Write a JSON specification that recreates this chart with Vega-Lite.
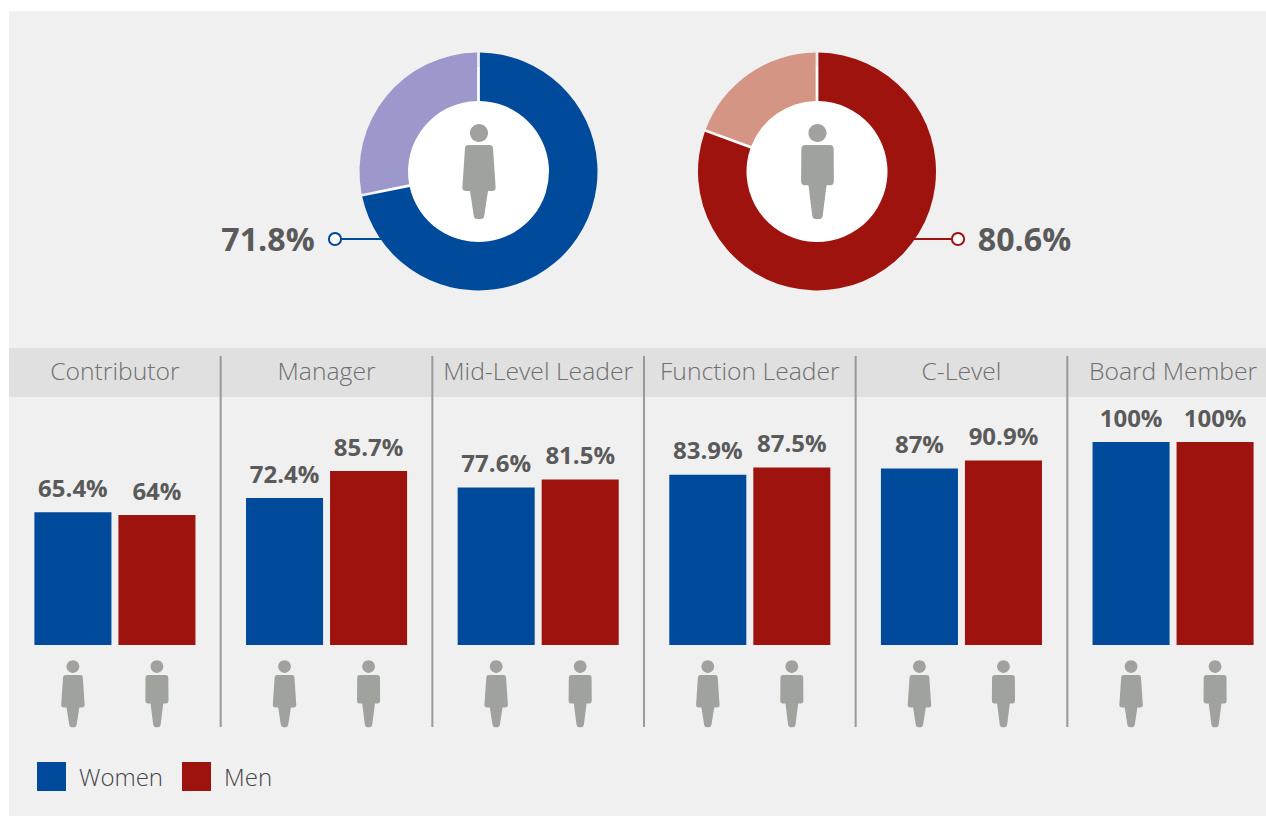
{"$schema":"https://vega.github.io/schema/vega-lite/v6.json","width":1266,"height":816,"autosize":{"type":"fit","contains":"padding"},"padding":{"left":9,"top":11,"right":0,"bottom":0},"background":"#ffffff","view":{"stroke":null,"fill":"#f0f0f0"},"config":{"font":"Open Sans"},"datasets":{"levels":[{"level":"Contributor"},{"level":"Manager"},{"level":"Mid-Level Leader"},{"level":"Function Leader"},{"level":"C-Level"},{"level":"Board Member"}],"bars":[{"level":"Contributor","gender":"Women","share":0.654},{"level":"Contributor","gender":"Men","share":0.64},{"level":"Manager","gender":"Women","share":0.724},{"level":"Manager","gender":"Men","share":0.857},{"level":"Mid-Level Leader","gender":"Women","share":0.776},{"level":"Mid-Level Leader","gender":"Men","share":0.815},{"level":"Function Leader","gender":"Women","share":0.839},{"level":"Function Leader","gender":"Men","share":0.875},{"level":"C-Level","gender":"Women","share":0.87},{"level":"C-Level","gender":"Men","share":0.909},{"level":"Board Member","gender":"Women","share":1},{"level":"Board Member","gender":"Men","share":1}],"overall":[{"gender":"Women","share":0.718},{"gender":"Men","share":0.806}],"donut":[{"gender":"Women","segment":"Women","share":0.718},{"gender":"Women","segment":"Women remainder","share":0.282},{"gender":"Men","segment":"Men","share":0.806},{"gender":"Men","segment":"Men remainder","share":0.194}]},"resolve":{"scale":{"x":"independent"}},"layer":[{"data":{"name":"levels"},"mark":{"type":"rect","fill":"#e0e0e0"},"transform":[{"filter":"datum.level=='Contributor'"}],"encoding":{"y":{"datum":1.463,"type":"quantitative","axis":null,"scale":{"domain":[0,1],"range":[634,431],"nice":false,"zero":false}},"y2":{"datum":1.2217}}},{"data":{"name":"levels"},"transform":[{"filter":"datum.level!='Contributor'"}],"mark":{"type":"rule","color":"#999999","strokeWidth":2},"encoding":{"x":{"field":"level","type":"nominal","axis":null,"bandPosition":0,"scale":{"type":"band","domain":["Contributor","Manager","Mid-Level Leader","Function Leader","C-Level","Board Member"],"range":[0,1270]}},"y":{"datum":1.4236,"type":"quantitative","axis":null,"scale":{"domain":[0,1],"range":[634,431],"nice":false,"zero":false}},"y2":{"datum":-0.404}}},{"data":{"name":"levels"},"mark":{"type":"text","font":"Open Sans","fontWeight":300,"fontSize":24.7,"color":"#6f6f6f","baseline":"alphabetic"},"encoding":{"text":{"field":"level"},"x":{"field":"level","type":"nominal","axis":null,"scale":{"type":"band","domain":["Contributor","Manager","Mid-Level Leader","Function Leader","C-Level","Board Member"],"range":[0,1270],"paddingInner":0.239,"paddingOuter":0.12}},"y":{"datum":1.3055,"type":"quantitative","axis":null,"scale":{"domain":[0,1],"range":[634,431],"nice":false,"zero":false}}}},{"data":{"name":"bars"},"mark":{"type":"bar"},"encoding":{"x":{"field":"level","type":"nominal","axis":null,"scale":{"type":"band","domain":["Contributor","Manager","Mid-Level Leader","Function Leader","C-Level","Board Member"],"range":[0,1270],"paddingInner":0.239,"paddingOuter":0.12}},"xOffset":{"field":"gender","type":"nominal","scale":{"domain":["Women","Men"],"paddingInner":0.083}},"y":{"field":"share","type":"quantitative","axis":null,"stack":null,"scale":{"domain":[0,1],"range":[634,431],"nice":false,"zero":false}},"color":{"field":"gender","type":"nominal","scale":{"domain":["Women","Men","Women remainder","Men remainder"],"range":["#004a9b","#9e130e","#9c98cc","#d49584"]},"legend":{"title":null,"orient":"none","legendX":28,"legendY":751,"direction":"horizontal","columns":2,"values":["Women","Men"],"symbolType":"square","symbolSize":841,"symbolStrokeWidth":0,"labelFont":"Open Sans","labelFontWeight":300,"labelFontSize":24,"labelColor":"#444444","labelOffset":13,"columnPadding":18,"encode":{"labels":{"update":{"dy":{"value":2}}}}}}}},{"data":{"name":"bars"},"mark":{"type":"text","font":"Open Sans","fontWeight":700,"fontSize":24,"color":"#5a5a5a","baseline":"alphabetic","dy":-15.5},"encoding":{"text":{"field":"share","type":"quantitative","format":".1~%"},"x":{"field":"level","type":"nominal","axis":null,"scale":{"type":"band","domain":["Contributor","Manager","Mid-Level Leader","Function Leader","C-Level","Board Member"],"range":[0,1270],"paddingInner":0.239,"paddingOuter":0.12}},"xOffset":{"field":"gender","type":"nominal","scale":{"domain":["Women","Men"],"paddingInner":0.083}},"y":{"field":"share","type":"quantitative","axis":null,"stack":null,"scale":{"domain":[0,1],"range":[634,431],"nice":false,"zero":false}}}},{"data":{"name":"bars"},"mark":{"type":"point","filled":true,"size":4489,"color":"#a0a29e","opacity":1},"encoding":{"x":{"field":"level","type":"nominal","axis":null,"scale":{"type":"band","domain":["Contributor","Manager","Mid-Level Leader","Function Leader","C-Level","Board Member"],"range":[0,1270],"paddingInner":0.239,"paddingOuter":0.12}},"xOffset":{"field":"gender","type":"nominal","scale":{"domain":["Women","Men"],"paddingInner":0.083}},"y":{"datum":-0.24,"type":"quantitative","axis":null,"scale":{"domain":[0,1],"range":[634,431],"nice":false,"zero":false}},"shape":{"field":"gender","type":"nominal","legend":null,"scale":{"domain":["Women","Men"],"range":["M-0.19,-0.81A0.19,0.19 0 1 1 0.19,-0.81A0.19,0.19 0 1 1 -0.19,-0.81ZM-0.22,-0.56L0.22,-0.56Q0.29,-0.56 0.295,-0.49L0.35,0.33Q0.355,0.41 0.27,0.41L0.19,0.41L0.11,0.93Q0.1,1 0.04,1L-0.04,1Q-0.1,1 -0.11,0.93L-0.19,0.41L-0.27,0.41Q-0.355,0.41 -0.35,0.33L-0.295,-0.49Q-0.29,-0.56 -0.22,-0.56Z","M-0.19,-0.81A0.19,0.19 0 1 1 0.19,-0.81A0.19,0.19 0 1 1 -0.19,-0.81ZM-0.26,-0.56L0.26,-0.56Q0.335,-0.56 0.34,-0.48L0.345,0.2Q0.345,0.29 0.27,0.29L0.19,0.29L0.11,0.93Q0.1,1 0.04,1L-0.04,1Q-0.1,1 -0.11,0.93L-0.19,0.29L-0.27,0.29Q-0.345,0.29 -0.345,0.2L-0.34,-0.48Q-0.335,-0.56 -0.26,-0.56Z"]}}}},{"data":{"name":"overall"},"mark":{"type":"tick","size":40,"thickness":2,"opacity":1},"encoding":{"x":{"field":"gender","type":"nominal","axis":null,"scale":{"type":"point","padding":0,"domain":["Women","Men"],"range":[353,925]}},"y":{"datum":2,"type":"quantitative","axis":null,"scale":{"domain":[0,1],"range":[634,431],"nice":false,"zero":false}},"color":{"field":"gender","type":"nominal","legend":null,"scale":{"domain":["Women","Men","Women remainder","Men remainder"],"range":["#004a9b","#9e130e","#9c98cc","#d49584"]}}}},{"data":{"name":"overall"},"mark":{"type":"point","filled":true,"fill":"#ffffff","strokeWidth":2,"size":150,"opacity":1},"encoding":{"x":{"field":"gender","type":"nominal","axis":null,"scale":{"type":"point","padding":0,"domain":["Women","Men"],"range":[326,949]}},"y":{"datum":2,"type":"quantitative","axis":null,"scale":{"domain":[0,1],"range":[634,431],"nice":false,"zero":false}},"stroke":{"field":"gender","type":"nominal","legend":null,"scale":{"domain":["Women","Men"],"range":["#004a9b","#9e130e"]}}}},{"data":{"name":"overall"},"mark":{"type":"text","font":"Open Sans","fontWeight":700,"fontSize":32.2,"color":"#5a5a5a","baseline":"alphabetic","dy":12},"encoding":{"text":{"field":"share","type":"quantitative","format":".1~%"},"x":{"field":"gender","type":"nominal","axis":null,"scale":{"type":"point","padding":0,"domain":["Women","Men"],"range":[259,1015.5]}},"y":{"datum":2,"type":"quantitative","axis":null,"scale":{"domain":[0,1],"range":[634,431],"nice":false,"zero":false}}}},{"data":{"name":"overall"},"mark":{"type":"point","shape":"circle","filled":true,"color":"#ffffff","size":43744,"opacity":1},"encoding":{"x":{"field":"gender","type":"nominal","axis":null,"scale":{"type":"point","padding":0,"domain":["Women","Men"],"range":[469.5,808]}},"y":{"datum":2.3325,"type":"quantitative","axis":null,"scale":{"domain":[0,1],"range":[634,431],"nice":false,"zero":false}}}},{"data":{"name":"donut"},"transform":[{"stack":"share","groupby":["gender"],"sort":[{"field":"share","order":"descending"}],"as":["start","end"]}],"mark":{"type":"arc","innerRadius":70.5,"outerRadius":119,"padAngle":0.02},"encoding":{"x":{"field":"gender","type":"nominal","axis":null,"scale":{"type":"point","padding":0,"domain":["Women","Men"],"range":[469.5,808]}},"y":{"datum":2.3325,"type":"quantitative","axis":null,"scale":{"domain":[0,1],"range":[634,431],"nice":false,"zero":false}},"theta":{"field":"start","type":"quantitative","stack":null,"scale":{"domain":[0,1],"range":[0,6.2832]}},"theta2":{"field":"end"},"color":{"field":"segment","type":"nominal","legend":null,"scale":{"domain":["Women","Men","Women remainder","Men remainder"],"range":["#004a9b","#9e130e","#9c98cc","#d49584"]}}}},{"data":{"name":"overall"},"mark":{"type":"point","filled":true,"size":9025,"color":"#a0a29e","opacity":1},"encoding":{"x":{"field":"gender","type":"nominal","axis":null,"scale":{"type":"point","padding":0,"domain":["Women","Men"],"range":[470,808.5]}},"y":{"datum":2.3325,"type":"quantitative","axis":null,"scale":{"domain":[0,1],"range":[634,431],"nice":false,"zero":false}},"shape":{"field":"gender","type":"nominal","legend":null,"scale":{"domain":["Women","Men"],"range":["M-0.19,-0.81A0.19,0.19 0 1 1 0.19,-0.81A0.19,0.19 0 1 1 -0.19,-0.81ZM-0.22,-0.56L0.22,-0.56Q0.29,-0.56 0.295,-0.49L0.35,0.33Q0.355,0.41 0.27,0.41L0.19,0.41L0.11,0.93Q0.1,1 0.04,1L-0.04,1Q-0.1,1 -0.11,0.93L-0.19,0.41L-0.27,0.41Q-0.355,0.41 -0.35,0.33L-0.295,-0.49Q-0.29,-0.56 -0.22,-0.56Z","M-0.19,-0.81A0.19,0.19 0 1 1 0.19,-0.81A0.19,0.19 0 1 1 -0.19,-0.81ZM-0.26,-0.56L0.26,-0.56Q0.335,-0.56 0.34,-0.48L0.345,0.2Q0.345,0.29 0.27,0.29L0.19,0.29L0.11,0.93Q0.1,1 0.04,1L-0.04,1Q-0.1,1 -0.11,0.93L-0.19,0.29L-0.27,0.29Q-0.345,0.29 -0.345,0.2L-0.34,-0.48Q-0.335,-0.56 -0.26,-0.56Z"]}}}}]}
